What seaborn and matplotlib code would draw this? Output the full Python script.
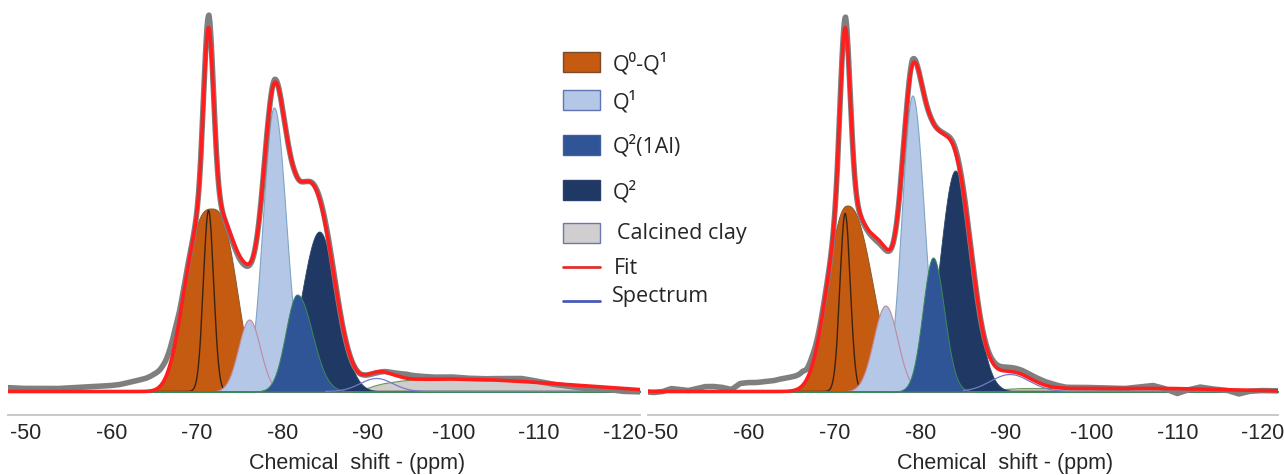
import numpy as np
import matplotlib
matplotlib.use("Agg")
import matplotlib.pyplot as plt
import seaborn as sns
from matplotlib.patches import Rectangle
from matplotlib.lines import Line2D

sns.set_style("white")
plt.rcParams["font.family"] = ["Liberation Sans", "DejaVu Sans"]

# ---------------- data ----------------
# components of the deconvolution (heights in arbitrary intensity units)
components = ["Q0-Q1", "Q0-Q1 narrow", "Q1 (b)", "Q1", "Q2(1Al)", "Q2", "band -91"]

left_center = [-71.65, -71.35, -76.1, -79.0, -81.7, -84.3, -91.0]
left_height = [183, 181, 72, 284, 97, 160, 13]
left_wleft = [3.8, 0.85, 1.8, 1.84, 1.9, 2.9, 2.7]
left_wright = [3.65, 0.85, 1.8, 2.0, 2.5, 2.83, 2.7]
left_power = [2.8, 2, 2, 2, 2, 2, 2]

right_center = [-71.5, -71.25, -75.95, -79.1, -81.5, -84.1, -90.5]
right_height = [186, 178, 86, 296, 134, 221, 17]
right_wleft = [3.06, 0.85, 1.98, 1.75, 1.7, 2.5, 3.2]
right_wright = [3.85, 0.85, 1.98, 1.9, 1.85, 2.69, 3.2]
right_power = [2.3, 2, 2, 2, 2, 2, 2]

# calcined clay contribution
clay_ppm = [-86, -88, -89, -90, -91, -92, -94, -96, -100, -105, -110, -115, -120, -122.5]
left_clay = [0, 0, 0.5, 3, 6, 8, 10.5, 12, 12.5, 11.5, 9, 6, 3, 1.5]
right_clay = [0, 1, 1.5, 2, 2.5, 3, 3, 3, 3, 3, 3, 2, 1, 0.5]

# measured spectrum minus fit
left_res_ppm = [-47.5, -50, -52, -54, -56, -58, -60, -61, -62, -63, -64, -65, -66, -67,
                -67.5, -68, -68.5, -69.5, -70.5, -71.0, -71.4, -71.8, -72.3, -73, -74,
                -75, -76, -77, -78.5, -79.1, -79.7, -81, -83, -84.5, -85.5, -87, -89,
                -91, -93, -94.5, -96, -98, -100, -102, -104, -106, -108, -110, -112,
                -114, -116, -118, -120, -122.5]
left_res = [4, 3, 3, 3, 4, 5, 6, 7, 9, 11, 13, 16, 17, 16, 14, 7, 4, 1, 0, 4, 13, 4, 0,
            -1, -2, -3, -2, 0, 0, 3, 0, 0, 0, 2, 3, 0, 0, -1, 2, 4, 3, 2, 2, 1, 1, 2, 3,
            1, -1, -2, -3, -2, -3, -2]

right_res_ppm = [-47.5, -49, -50, -51, -52, -53, -54, -55, -56, -57, -58, -59, -60, -61,
                 -62, -63, -64, -65, -66.3, -66.8, -67.4, -68, -68.5, -69.5, -70.5, -71.0,
                 -71.3, -71.6, -72.1, -73, -74, -75, -76, -77, -78.5, -79.1, -79.7, -81,
                 -83, -84.3, -85.5, -87, -88.5, -90, -92, -94, -95.5, -97, -100, -104,
                 -107.2, -108.5, -110, -111.3, -112.7, -114.5, -116, -117.2, -118.5,
                 -120, -122.5]
right_res = [0, -1, 0, 3, 2, 1, 3, 5, 5, 4, 2, 8, 9, 9, 10, 11, 13, 14, 14, 10, 9, 5, 3,
             0, 0, 4, 11, 4, 0, -1, -2, -3, -2, 0, 0, 5, 0, 0, 1, 3, 2, 0, 3, 4, 4, 4, 3,
             1, 1, 0, 3, 0, -5, -1, 2, 0, -1, -4, -1, 0, 0]

xticks = [-50, -60, -70, -80, -90, -100, -110, -120]
legend_labels = ["Q\u2070-Q\u00b9", "Q\u00b9", "Q\u00b2(1Al)", "Q\u00b2", "Calcined clay", "Fit", "Spectrum"]

# ---------------- styles ----------------
ORANGE = "#c55a11"
LIGHT = "#b4c7e7"
MID = "#2f5597"
NAVY = "#1f3864"
CLAY = "#d0cecd"
RED = "#ff1e1e"
GRAY = "#7f7f7f"

W, H = 1284, 475
fig = plt.figure(figsize=(W / 100, H / 100), dpi=100)

ppm = np.linspace(-47.5, -122.5, 3001)


def shape(x, c, h, wl, wr, p):
    d = x - c
    w = np.where(d > 0, wl, wr)
    return h * np.exp(-np.abs(d / w) ** p)


panels = [
    dict(rect=[8 / W, 1 - 415 / H, 632 / W, 410 / H], xlim=(-47.9, -121.8),
         c=left_center, h=left_height, wl=left_wleft, wr=left_wright, p=left_power,
         clay=left_clay, rp=left_res_ppm, r=left_res, lab=0.552),
    dict(rect=[648 / W, 1 - 415 / H, 630 / W, 410 / H], xlim=(-48.25, -121.75),
         c=right_center, h=right_height, wl=right_wleft, wr=right_wright, p=right_power,
         clay=right_clay, rp=right_res_ppm, r=right_res, lab=0.567),
]

for P in panels:
    ax = fig.add_axes(P["rect"])
    comps = [shape(ppm, P["c"][i], P["h"][i], P["wl"][i], P["wr"][i], P["p"][i])
             for i in range(len(components))]
    clay = np.interp(ppm, clay_ppm[::-1], P["clay"][::-1])
    fit = np.sum(comps, axis=0) + clay
    spec = fit + np.interp(ppm, P["rp"][::-1], P["r"][::-1])

    # calcined clay
    ax.fill_between(ppm, 0, clay, color=CLAY, lw=0, zorder=1)
    sns.lineplot(x=ppm[ppm < -87.5], y=clay[ppm < -87.5], ax=ax, color="#6f9a5f", lw=0.9, zorder=1.5)
    # Q0-Q1
    ax.fill_between(ppm, 0, comps[0], facecolor=ORANGE, edgecolor="#8a5a2a", lw=0.7, zorder=2)
    sns.lineplot(x=ppm, y=comps[1], ax=ax, color="#3a2414", lw=1.0, zorder=2.5)
    # Q1
    ax.fill_between(ppm, 0, comps[3], facecolor=LIGHT, edgecolor="#7ea6c4", lw=0.8, zorder=3)
    ax.fill_between(ppm, 0, comps[2], facecolor=LIGHT, edgecolor="#c0899a", lw=0.8, zorder=3.5)
    # Q2 and Q2(1Al)
    ax.fill_between(ppm, 0, comps[5], facecolor=NAVY, edgecolor="#2a4a6a", lw=0.6, zorder=4)
    ax.fill_between(ppm, 0, comps[4], facecolor=MID, edgecolor="#3a8a5a", lw=0.7, zorder=4.5)
    # band
    sns.lineplot(x=ppm[ppm < -85], y=comps[6][ppm < -85], ax=ax, color="#7878cc", lw=0.9, zorder=5)
    # spectrum and fit
    sns.lineplot(x=ppm, y=spec, ax=ax, color=GRAY, lw=4.0, zorder=6)
    sns.lineplot(x=ppm, y=fit, ax=ax, color=RED, lw=2.6, zorder=7)

    ax.set_xlim(*P["xlim"])
    ax.set_ylim(-23.5, 386.5)
    ax.set_xticks(xticks)
    ax.set_xticklabels([str(t) for t in xticks])
    ax.set_yticks([])
    ax.set_ylabel("")
    for s in ["left", "right", "top"]:
        ax.spines[s].set_visible(False)
    ax.spines["bottom"].set_color("#c4c4c4")
    ax.spines["bottom"].set_linewidth(1.3)
    ax.tick_params(axis="x", direction="in", length=6, width=1.1, color="#b8b8b8",
                   pad=5.8, labelsize=15.5, labelcolor="#262626")
    ax.set_xlabel("Chemical  shift - (ppm)", fontsize=15.5, color="#262626")
    ax.xaxis.set_label_coords(P["lab"], -0.0927)
    ax.patch.set_alpha(0)

# ---------------- legend (drawn in figure pixels) ----------------
def fx(px):
    return px / W


def fy(py):
    return 1 - py / H


fills = [(ORANGE, "#7a4a2a"), (LIGHT, "#5f74b0"), (MID, "#3f5fa0"), (NAVY, "#2a3f70"), ("#d0cece", "#6a7ab0")]
rows = [62, 100, 145, 190, 233]
for (fc, ec), yc in zip(fills, rows):
    fig.add_artist(Rectangle((fx(563), fy(yc + 10)), 37 / W, 20 / H, transform=fig.transFigure,
                             facecolor=fc, edgecolor=ec, lw=1.0))
fig.add_artist(Line2D([fx(563), fx(600)], [fy(267), fy(267)], transform=fig.transFigure,
                      color="#e03030", lw=2.0))
fig.add_artist(Line2D([fx(563), fx(600)], [fy(301), fy(301)], transform=fig.transFigure,
                      color="#4a5ab8", lw=2.0))

text_x = [613, 613, 613, 613, 617, 614, 612]
text_base = [70, 108, 153, 198, 239, 274, 302]
for lab, tx, ty in zip(legend_labels, text_x, text_base):
    fig.text(fx(tx), fy(ty), lab, fontsize=15.5, va="baseline", ha="left",
             color="#262626", family=["Open Sans", "DejaVu Sans"])

fig.savefig("out.png", dpi=100)
